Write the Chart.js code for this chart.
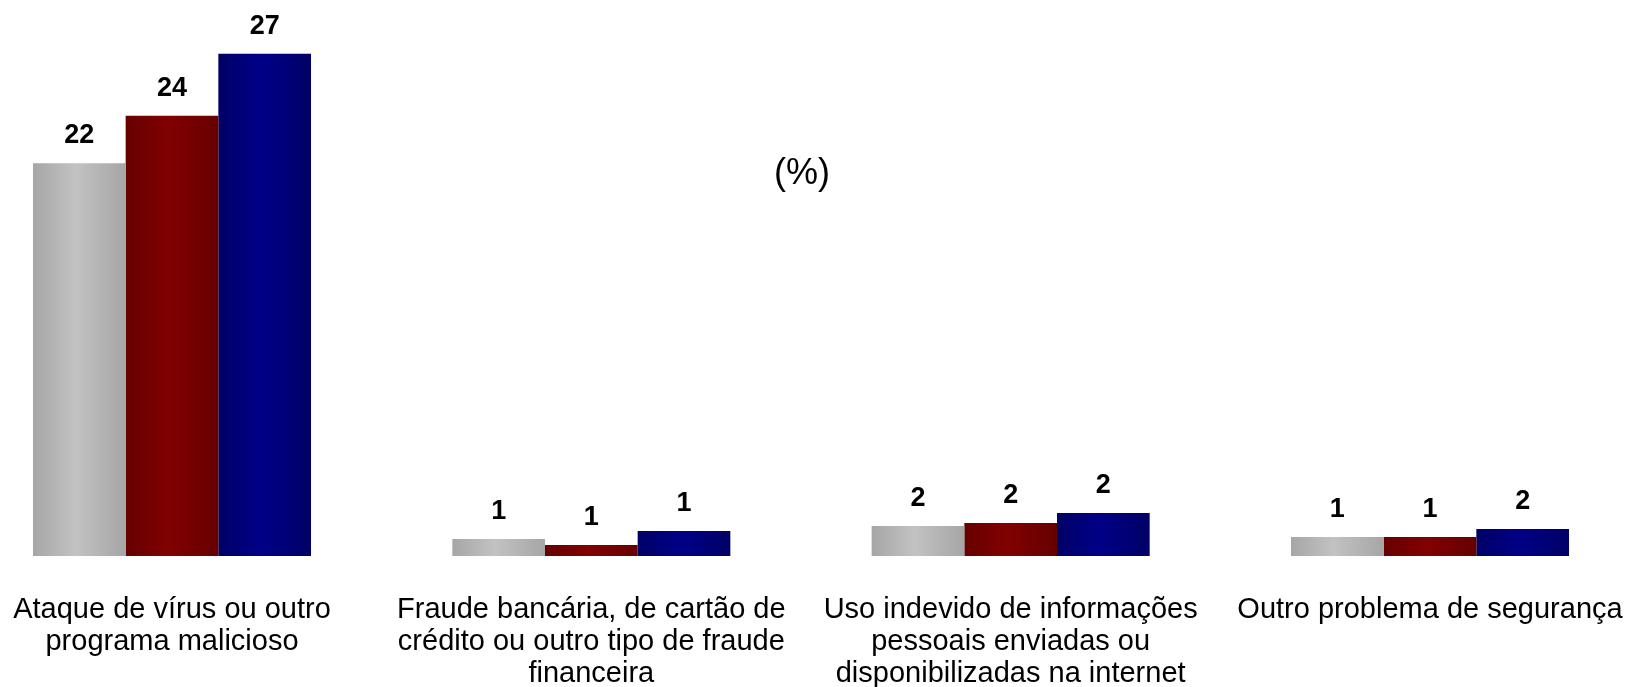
<!DOCTYPE html>
<html>
<head>
<meta charset="utf-8">
<script src="https://cdn.jsdelivr.net/npm/chart.js@4/dist/chart.umd.min.js"></script>
<style>
  html, body { margin: 0; padding: 0; background: #fff; overflow: hidden; }
  #wrap { width: 1630px; height: 687px; }
</style>
</head>
<body>
<div id="wrap"><canvas id="myChart" width="1630" height="687"></canvas></div>
<script>
'use strict';

// Categories (x axis), one array of lines per category
const categories = [
    ['Ataque de vírus ou outro', 'programa malicioso'],
    ['Fraude bancária, de cartão de', 'crédito ou outro tipo de fraude', 'financeira'],
    ['Uso indevido de informações', 'pessoais enviadas ou', 'disponibilizadas na internet'],
    'Outro problema de segurança'
];

// Bar heights
const seriesGray = [21.5, 0.93, 1.64, 1.04];
const seriesRed = [24.1, 0.60, 1.81, 1.04];
const seriesBlue = [27.5, 1.37, 2.35, 1.48];

// Printed value labels
const labelsGray = [22, 1, 2, 1];
const labelsRed = [24, 1, 2, 1];
const labelsBlue = [27, 1, 2, 2];

const yMax = 30;
const catPct = 0.663;

// Horizontal shading for each bar, built from the x scale
function shade(dark, light) {
    return function (ctx) {
        const chart = ctx.chart;
        const xs = chart.scales.x;
        if (!xs || ctx.dataIndex === undefined || !chart.chartArea) return light;
        const step = xs.getPixelForValue(1) - xs.getPixelForValue(0);
        const group = step * catPct;
        const chunk = group / 3;
        const left = xs.getPixelForValue(ctx.dataIndex) - group / 2 + ctx.datasetIndex * chunk;
        const g = chart.ctx.createLinearGradient(left, 0, left + chunk, 0);
        g.addColorStop(0, dark);
        g.addColorStop(0.46, light);
        g.addColorStop(1, dark);
        return g;
    };
}

// Draws the printed values above the bars
const valueLabels = {
    id: 'valueLabels',
    afterDatasetsDraw(chart) {
        const ctx = chart.ctx;
        ctx.save();
        ctx.font = 'bold 27px "Liberation Sans", Arial, sans-serif';
        ctx.fillStyle = '#000';
        ctx.textAlign = 'center';
        ctx.textBaseline = 'alphabetic';
        chart.data.datasets.forEach((ds, i) => {
            const meta = chart.getDatasetMeta(i);
            meta.data.forEach((bar, j) => {
                ctx.fillText(String(ds.printed[j]), bar.x, bar.y - 20);
            });
        });
        ctx.restore();
    }
};

// Draws the "(%)" note
const unitNote = {
    id: 'unitNote',
    afterDraw(chart) {
        const ctx = chart.ctx;
        ctx.save();
        ctx.font = '36px "Liberation Sans", Arial, sans-serif';
        ctx.fillStyle = '#000';
        ctx.textAlign = 'center';
        ctx.textBaseline = 'middle';
        ctx.fillText('(%)', chart.width * 0.492, chart.height * 0.253);
        ctx.restore();
    }
};

function createChart() {
    const ctx = document.getElementById('myChart').getContext('2d');
    new Chart(ctx, {
        type: 'bar',
        data: {
            labels: categories,
            datasets: [
                { data: seriesGray, printed: labelsGray, backgroundColor: shade('#a6a6a6', '#c2c2c2') },
                { data: seriesRed, printed: labelsRed, backgroundColor: shade('#660000', '#820000') },
                { data: seriesBlue, printed: labelsBlue, backgroundColor: shade('#000066', '#000088') }
            ]
        },
        options: {
            responsive: false,
            animation: false,
            layout: { padding: { left: 172, right: 200, top: 8, bottom: 0 } },
            datasets: {
                bar: { categoryPercentage: catPct, barPercentage: 1, borderWidth: 0, clip: false }
            },
            plugins: {
                legend: { display: false },
                tooltip: { enabled: false },
                title: { display: false }
            },
            scales: {
                x: {
                    offset: false,
                    grid: { display: false },
                    border: { display: false },
                    // fixed axis height; labels may overhang the side padding
                    afterFit: (s) => {
                        s.height = 131;
                        s.paddingLeft = 0;
                        s.paddingRight = 0;
                    },
                    ticks: {
                        autoSkip: false,
                        maxRotation: 0,
                        minRotation: 0,
                        padding: 30,
                        color: '#000',
                        font: { family: '"Liberation Sans", Arial, sans-serif', size: 29, lineHeight: 1.1 }
                    }
                },
                y: {
                    display: false,
                    min: 0,
                    max: yMax
                }
            }
        },
        plugins: [valueLabels, unitNote]
    });
}

window.onload = createChart;
</script>
</body>
</html>
